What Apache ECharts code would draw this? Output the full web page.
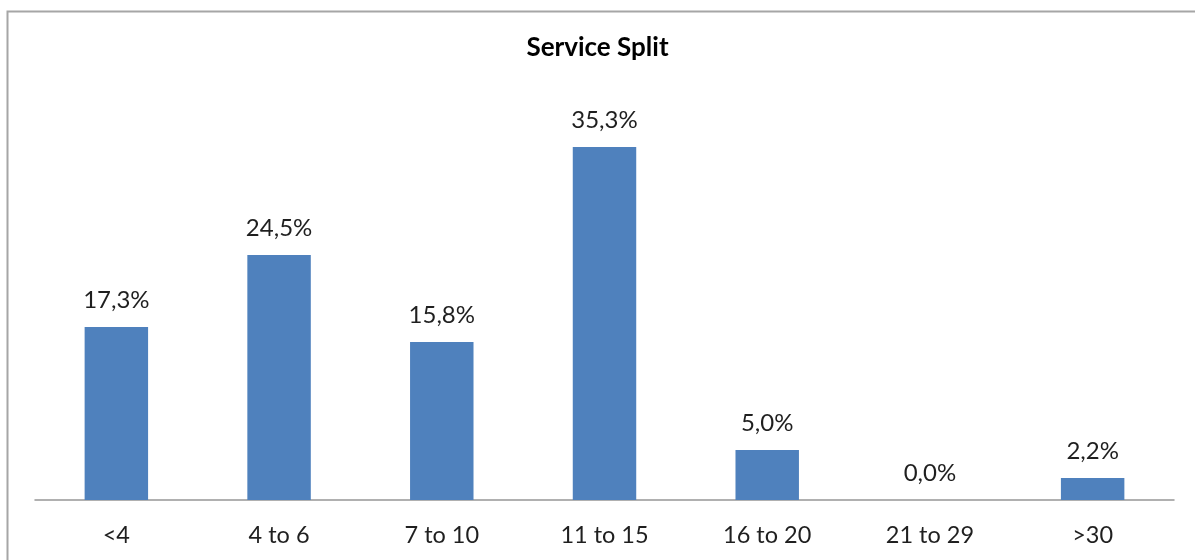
<!DOCTYPE html>
<html>
<head>
<meta charset="utf-8">
<script src="https://cdn.jsdelivr.net/npm/echarts@6/dist/echarts.min.js"></script>
<style>
  html, body { margin: 0; padding: 0; background: #fff; }
  #chart { width: 1195px; height: 560px; }
</style>
</head>
<body>
<div id="chart"></div>
<script>
// Years of service bands and share of staff in each band (%)
const categories = ['<4', '4 to 6', '7 to 10', '11 to 15', '16 to 20', '21 to 29', '>30'];
const shares = [17.3, 24.5, 15.8, 35.3, 5.0, 0.0, 2.2];
const titleText = 'Service Split';

const FONT = 'Lato, "Open Sans", sans-serif';

const chart = echarts.init(document.getElementById('chart'), null, { renderer: 'canvas' });

chart.setOption({
  backgroundColor: '#ffffff',
  animation: false,
  title: {
    text: titleText,
    left: 'center',
    top: 30,
    textStyle: { fontFamily: FONT, fontSize: 26, fontWeight: 'bold', color: '#000000' }
  },
  graphic: [{
    type: 'rect',
    shape: { x: 7.5, y: 11.5, width: 1200, height: 600 },
    style: { fill: 'none', stroke: '#a6a6a6', lineWidth: 2 },
    silent: true
  }],
  grid: { left: 35, right: 21, top: 100, bottom: 60 },
  xAxis: {
    type: 'category',
    data: categories,
    axisLine: { lineStyle: { color: '#969696', width: 1.5 } },
    axisTick: { show: false },
    axisLabel: { fontFamily: FONT, fontSize: 23.5, color: '#1f1f1f', margin: 23 }
  },
  yAxis: {
    type: 'value',
    min: 0,
    max: 40,
    interval: 5,
    show: false,
    splitLine: { show: false }
  },
  series: [{
    type: 'bar',
    data: shares,
    barWidth: '39%',
    itemStyle: { color: '#4f81bd' },
    label: {
      show: true,
      position: 'top',
      distance: 15,
      fontFamily: FONT,
      fontSize: 24,
      color: '#1f1f1f',
      formatter: p => p.value.toFixed(1).replace('.', ',') + '%'
    }
  }]
});
</script>
</body>
</html>
